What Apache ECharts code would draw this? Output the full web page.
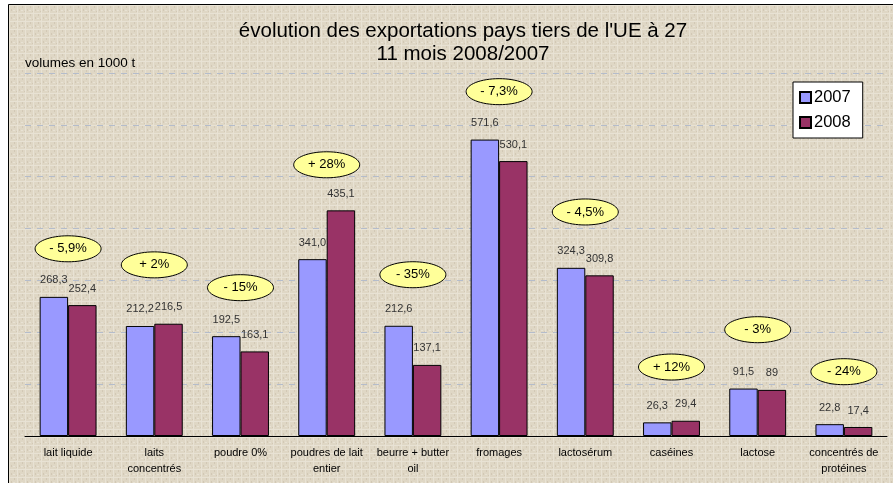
<!DOCTYPE html>
<html>
<head>
<meta charset="utf-8">
<script src="https://cdn.jsdelivr.net/npm/echarts@6/dist/echarts.min.js"></script>
<style>
  html, body { margin: 0; padding: 0; background: #fff; }
  #chart { width: 893px; height: 483px; }
</style>
</head>
<body>
<div id="chart"></div>
<script>
var categories = ['lait liquide', 'laits\nconcentrés', 'poudre 0%', 'poudres de lait\nentier', 'beurre + butter\noil',
    'fromages', 'lactosérum', 'caséines', 'lactose', 'concentrés de\nprotéines'];
var v2007 = [268.3, 212.2, 192.5, 341.0, 212.6, 571.6, 324.3, 26.3, 91.5, 22.8];
var v2008 = [252.4, 216.5, 163.1, 435.1, 137.1, 530.1, 309.8, 29.4, 89, 17.4];
var txt2007 = ['268,3', '212,2', '192,5', '341,0', '212,6', '571,6', '324,3', '26,3', '91,5', '22,8'];
var txt2008 = ['252,4', '216,5', '163,1', '435,1', '137,1', '530,1', '309,8', '29,4', '89', '17,4'];
// variation 2008/2007 et hauteur (en 1000 t) de la bulle
var variations = ['- 5,9%', '+ 2%', '- 15%', '+ 28%', '- 35%', '- 7,3%', '- 4,5%', '+ 12%', '- 3%', '- 24%'];
var bulleNiveau = [361, 330, 286, 523, 311, 664, 432, 133, 205, 124];

// texture toile (fond)
var tex = document.createElement('canvas');
tex.width = 8; tex.height = 8;
var ctx = tex.getContext('2d');
ctx.fillStyle = '#dfd7c5';
ctx.fillRect(0, 0, 8, 8);
ctx.fillStyle = '#e8e2d4';
ctx.fillRect(1, 0, 1, 8);
ctx.fillRect(0, 5, 8, 1);
ctx.fillRect(5, 2, 2, 1);
ctx.fillStyle = '#d2c8b5';
ctx.fillRect(3, 1, 1, 2);
ctx.fillRect(6, 6, 1, 2);
ctx.fillRect(0, 3, 1, 1);

var bulles = [];
for (var i = 0; i < categories.length; i++) {
    bulles.push([i, bulleNiveau[i], variations[i]]);
}

var myChart = echarts.init(document.getElementById('chart'));
var option = {
    backgroundColor: '#fff',
    animation: false,
    textStyle: { fontFamily: 'Liberation Sans, Arial, sans-serif' },
    graphic: [
        {
            type: 'rect', z: -10,
            shape: { x: 8.5, y: 4.5, width: 900, height: 500 },
            style: { fill: { image: tex, repeat: 'repeat' }, stroke: '#000', lineWidth: 1 }
        },
        {
            type: 'text', left: 25, top: 56,
            style: { text: 'volumes en 1000 t', fontSize: 13.5, fill: '#000', fontFamily: 'Liberation Sans, Arial' }
        }
    ],
    title: {
        text: "évolution des exportations pays tiers de l'UE à 27\n11 mois 2008/2007",
        left: 458,
        top: 15,
        textAlign: 'center',
        textStyle: { fontSize: 20.5, fontWeight: 'normal', color: '#000', lineHeight: 23, fontFamily: 'Liberation Sans, Arial' }
    },
    legend: {
        orient: 'vertical',
        left: 793,
        top: 82,
        width: 69,
        backgroundColor: '#fff',
        borderColor: '#000',
        borderWidth: 1,
        borderRadius: 0,
        padding: [7, 12, 7, 6],
        itemWidth: 11,
        itemHeight: 11,
        itemGap: 8,
        icon: 'rect',
        data: ['2007', '2008'],
        textStyle: { fontSize: 16.5, color: '#000', padding: [0, 0, 0, -2] }
    },
    grid: { left: 25, right: 6, top: 73, bottom: 47 },
    xAxis: {
        type: 'category',
        data: categories,
        axisLine: { lineStyle: { color: '#000', width: 1 } },
        axisTick: { length: 4, lineStyle: { color: '#000' } },
        axisLabel: { interval: 0, color: '#000', fontSize: 11, lineHeight: 16, margin: 9 }
    },
    yAxis: {
        type: 'value',
        min: 0,
        max: 700,
        interval: 100,
        axisLine: { show: false },
        axisTick: { show: false },
        axisLabel: { show: false },
        splitLine: { lineStyle: { color: '#b4bccb', type: [6, 6], width: 1 } }
    },
    series: [
        {
            name: '2007', type: 'bar', data: v2007,
            barGap: '0%', barCategoryGap: '34%',
            itemStyle: { color: '#9999ff', borderColor: '#000', borderWidth: 1 },
            label: {
                show: true, position: 'top', distance: 11, fontSize: 11, color: '#333',
                formatter: function (p) { return txt2007[p.dataIndex]; }
            }
        },
        {
            name: '2008', type: 'bar', data: v2008,
            itemStyle: { color: '#993366', borderColor: '#000', borderWidth: 1 },
            label: {
                show: true, position: 'top', distance: 11, fontSize: 11, color: '#333',
                formatter: function (p) { return txt2008[p.dataIndex]; }
            }
        },
        {
            name: 'variation', type: 'custom', data: bulles, z: 5,
            renderItem: function (params, api) {
                var c = api.coord([api.value(0), api.value(1)]);
                return {
                    type: 'group',
                    children: [
                        {
                            type: 'ellipse',
                            shape: { cx: c[0], cy: c[1], rx: 33, ry: 13 },
                            style: { fill: '#ffff99', stroke: '#000', lineWidth: 1 }
                        },
                        {
                            type: 'text',
                            x: c[0], y: c[1],
                            style: {
                                text: bulles[params.dataIndex][2], fontSize: 13, fill: '#000',
                                align: 'center', verticalAlign: 'middle', fontFamily: 'Liberation Sans, Arial'
                            }
                        }
                    ]
                };
            }
        }
    ]
};
myChart.setOption(option, true);
</script>
</body>
</html>
